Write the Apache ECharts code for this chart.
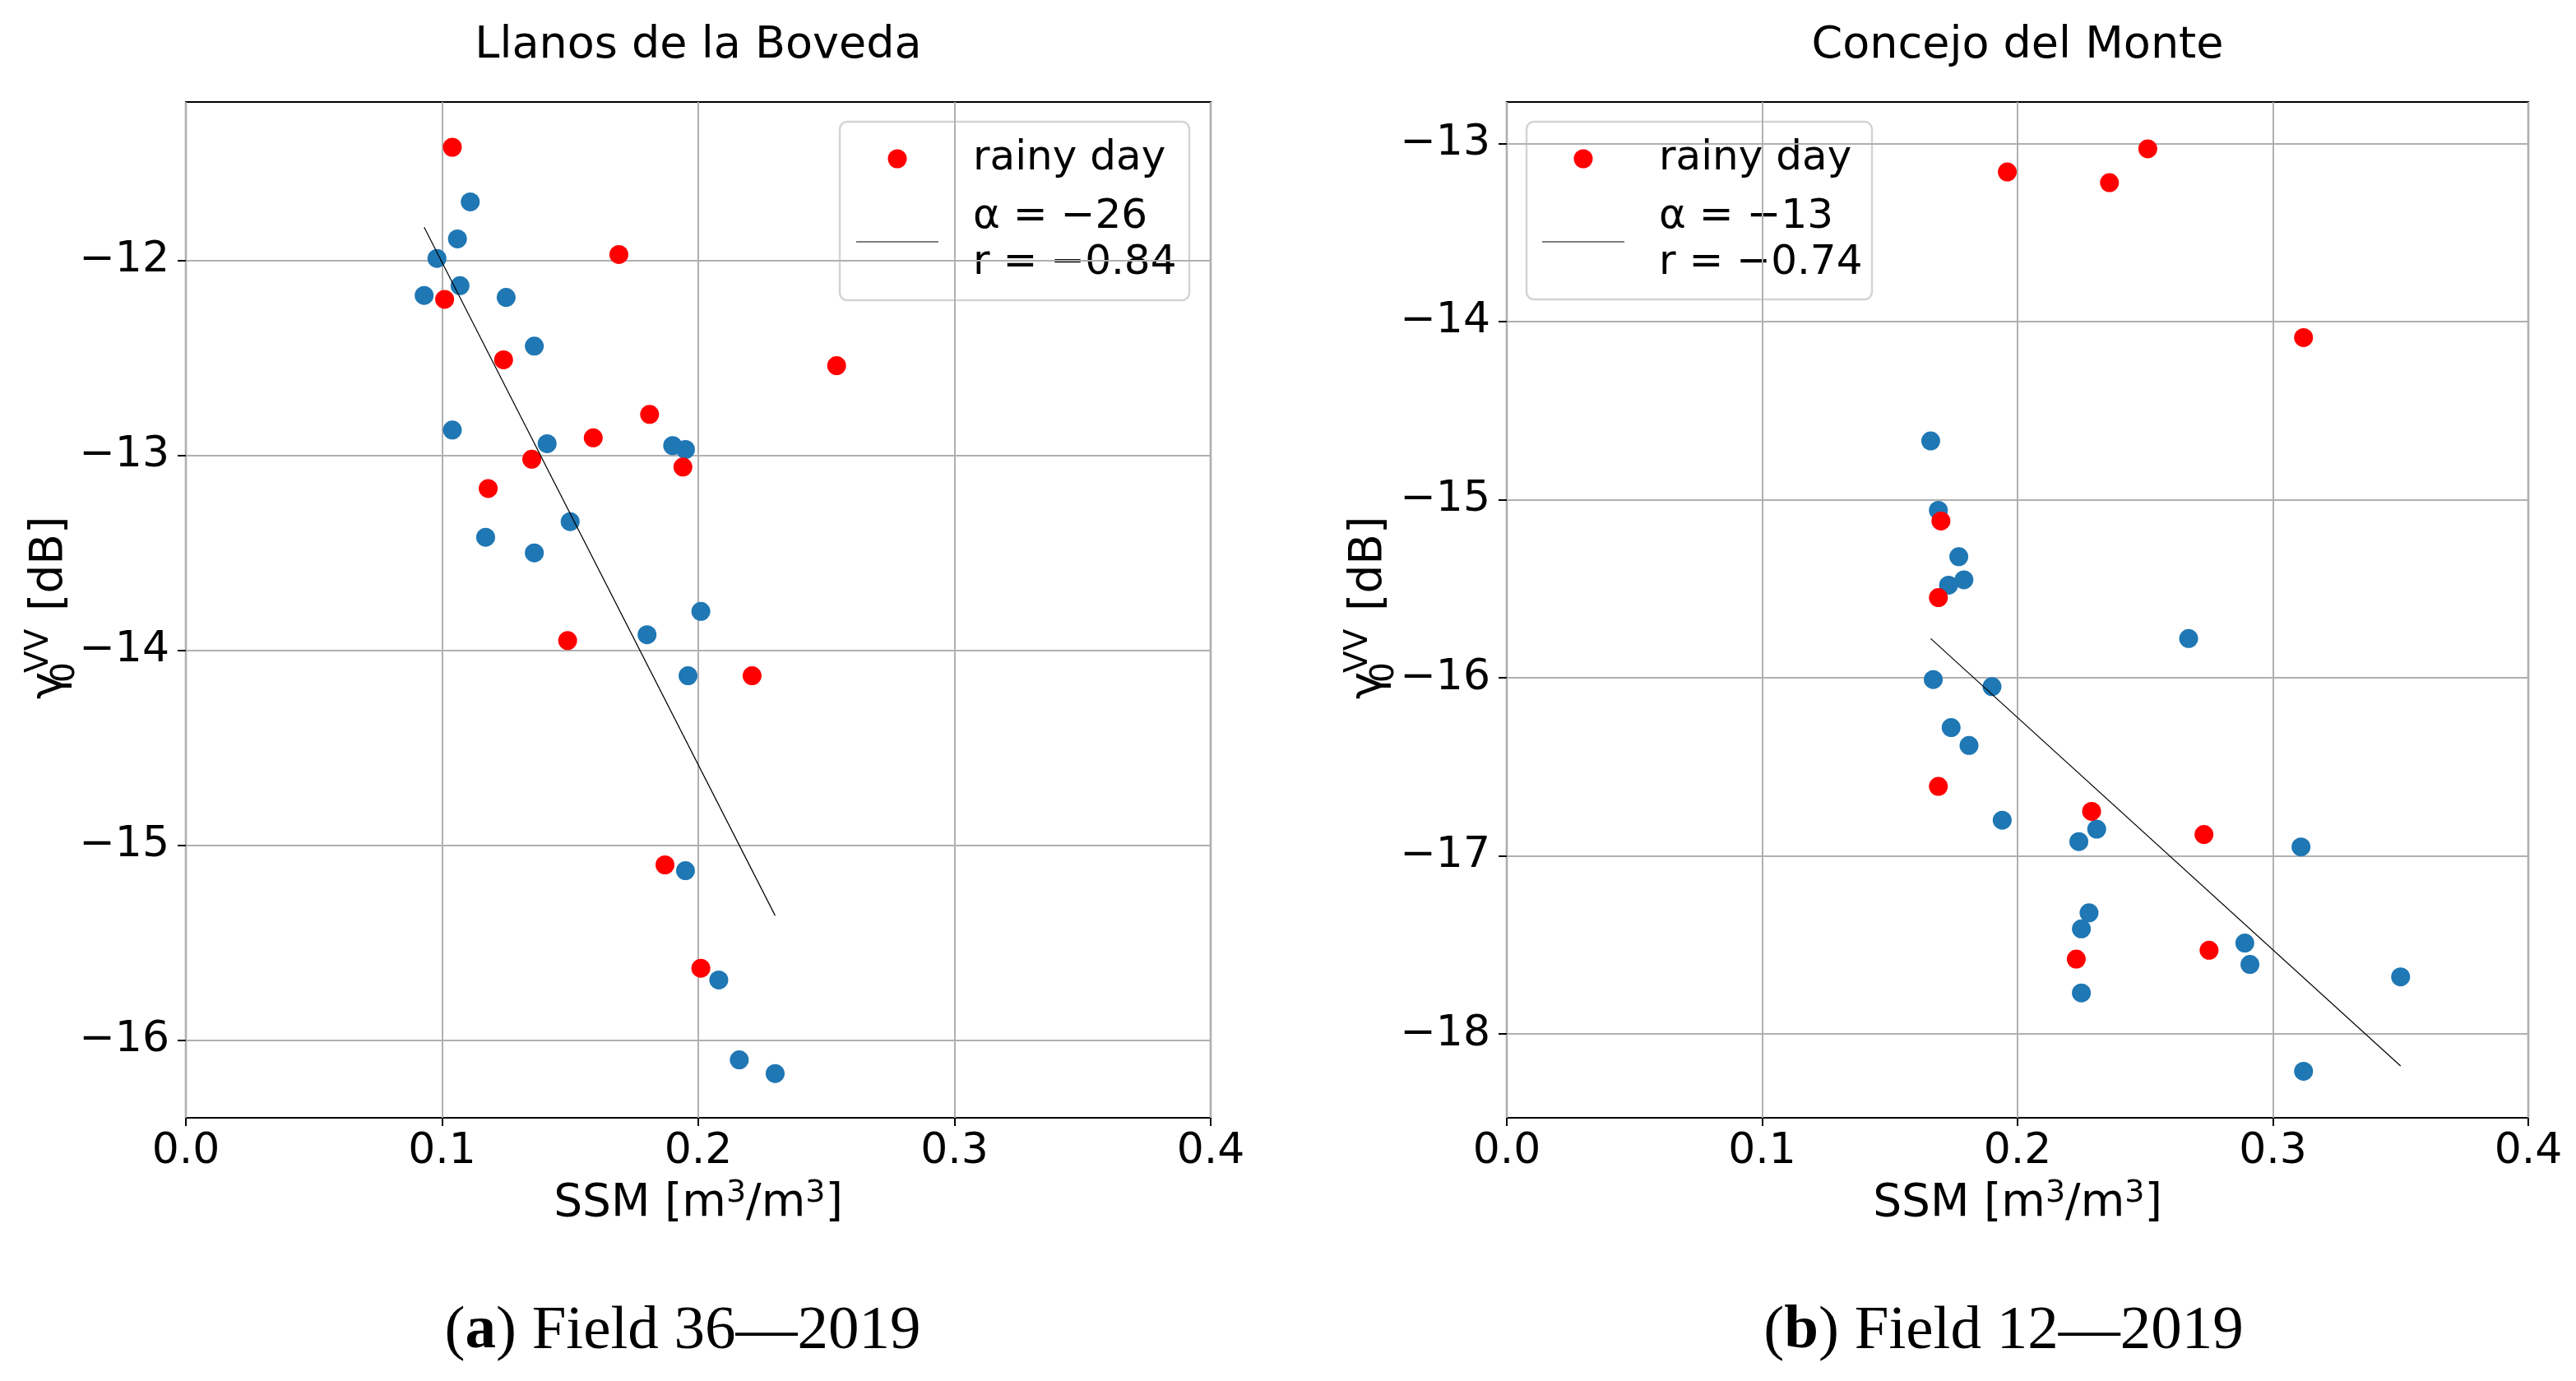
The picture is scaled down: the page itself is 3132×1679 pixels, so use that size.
<!DOCTYPE html>
<html>
<head>
<meta charset="utf-8">
<script src="https://cdn.jsdelivr.net/npm/echarts@6/dist/echarts.min.js"></script>
<style>
html,body{margin:0;padding:0;background:#fff;}
#chart{width:3132px;height:1679px;}
</style>
</head>
<body>
<div id="chart"></div>
<script>
// ---- data ----
const xTicks = [0.0, 0.1, 0.2, 0.3, 0.4];
const leftYTicks = [-16, -15, -14, -13, -12];
const rightYTicks = [-18, -17, -16, -15, -14, -13];

const leftTitle = 'Llanos de la Boveda';
const rightTitle = 'Concejo del Monte';

const leftBlueX = [0.111, 0.106, 0.098, 0.107, 0.093, 0.125, 0.136, 0.104, 0.141, 0.190, 0.195, 0.150, 0.117, 0.136, 0.201, 0.180, 0.196, 0.195, 0.208, 0.216, 0.230];
const leftBlueY = [-11.70, -11.89, -11.99, -12.13, -12.18, -12.19, -12.44, -12.87, -12.94, -12.95, -12.97, -13.34, -13.42, -13.50, -13.80, -13.92, -14.13, -15.13, -15.69, -16.10, -16.17];
const leftRedX = [0.104, 0.169, 0.101, 0.124, 0.181, 0.159, 0.135, 0.194, 0.118, 0.149, 0.221, 0.187, 0.201, 0.254];
const leftRedY = [-11.42, -11.97, -12.20, -12.51, -12.79, -12.91, -13.02, -13.06, -13.17, -13.95, -14.13, -15.10, -15.63, -12.54];
const leftFitX = [0.093, 0.230];
const leftFitY = [-11.83, -15.36];

const rightBlueX = [0.166, 0.169, 0.177, 0.179, 0.173, 0.267, 0.167, 0.190, 0.174, 0.181, 0.194, 0.231, 0.224, 0.311, 0.228, 0.225, 0.289, 0.291, 0.225, 0.350, 0.312];
const rightBlueY = [-14.67, -15.06, -15.32, -15.45, -15.48, -15.78, -16.01, -16.05, -16.28, -16.38, -16.80, -16.85, -16.92, -16.95, -17.32, -17.41, -17.49, -17.61, -17.77, -17.68, -18.21];
const rightRedX = [0.196, 0.236, 0.251, 0.312, 0.170, 0.169, 0.169, 0.229, 0.273, 0.223, 0.275];
const rightRedY = [-13.16, -13.22, -13.03, -14.09, -15.12, -15.55, -16.61, -16.75, -16.88, -17.58, -17.53];
const rightFitX = [0.166, 0.350];
const rightFitY = [-15.78, -18.18];

const leftLegend = ['rainy day', 'α = −26', 'r = −0.84'];
const rightLegend = ['rainy day', 'α = −13', 'r = −0.74'];
const leftCaption = ['a', ' Field 36—2019'];
const rightCaption = ['b', ' Field 12—2019'];

// ---- helpers ----
const zip = (xs, ys) => xs.map((x, i) => [x, ys[i]]);
const FONT = 'DejaVu Sans';
const BLUE = '#1f77b4', RED = '#ff0000';
const minus = v => (v < 0 ? '\u2212' : '') + Math.abs(v);

const grids = [
  {left: 226, top: 124, width: 1246, height: 1235},
  {left: 1832, top: 124, width: 1242, height: 1235}
];
const yRanges = [[-16.397, -11.188], [-18.471, -12.767]];
const yTickSets = [leftYTicks, rightYTicks];

function xAxis(i) {
  return {
    type: 'value', gridIndex: i, min: xTicks[0], max: xTicks[xTicks.length - 1], interval: 0.1,
    axisLine: {show: false},
    axisTick: {show: true, inside: false, length: 10, lineStyle: {color: '#000', width: 2}},
    axisLabel: {show: true, fontFamily: FONT, fontSize: 52, color: '#000', margin: 15,
      formatter: v => v.toFixed(1)},
    splitLine: {show: true, lineStyle: {color: '#b0b0b0', width: 2}}
  };
}
function yAxis(i) {
  const ticks = yTickSets[i];
  return {
    type: 'value', gridIndex: i, min: yRanges[i][0], max: yRanges[i][1],
    minInterval: 1, maxInterval: 1,
    axisLine: {show: false},
    axisTick: {show: true, inside: false, length: 10, customValues: ticks, lineStyle: {color: '#000', width: 2}},
    axisLabel: {show: true, fontFamily: FONT, fontSize: 52, color: '#000', margin: 20,
      customValues: ticks, showMinLabel: true, showMaxLabel: true,
      formatter: v => (Math.abs(v - Math.round(v)) < 1e-6 ? minus(Math.round(v)) : '')},
    splitLine: {show: true, lineStyle: {color: '#b0b0b0', width: 2}}
  };
}
function scatter(i, data, color) {
  return {type: 'scatter', xAxisIndex: i, yAxisIndex: i, data: data, symbol: 'circle', symbolSize: 23,
    itemStyle: {color: color, opacity: 1}, silent: true};
}
function fitLine(i, data) {
  return {type: 'line', xAxisIndex: i, yAxisIndex: i, data: data, showSymbol: false, symbol: 'none',
    lineStyle: {color: '#000', width: 1.2}, silent: true, z: 3};
}

function txt(x, y, text, size, align, extra) {
  return Object.assign({type: 'text', x: x, y: y, silent: true,
    style: {text: text, fontFamily: FONT, fontSize: size, fill: '#000',
      align: align, textAlign: align, verticalAlign: 'middle', textVerticalAlign: 'middle'}}, extra || {});
}

function yLabel(bx) {
  // rotated 90deg CCW; local x runs upward along text, local y>0 is to the right (below baseline)
  return {type: 'group', x: bx, y: 850, rotation: Math.PI / 2, silent: true, children: [
    txt(0, -16.5, 'γ', 56, 'left'),
    txt(20, 2.6, '0', 39, 'left'),
    txt(32, -29.4, 'VV', 39, 'left'),
    txt(107, -16.5, '[dB]', 55, 'left')
  ]};
}

function xLabel(cx) {
  return {type: 'text', x: cx, y: 1464, silent: true, style: {
    text: '{m|SSM [m}{s|3}{m|/m}{s|3}{m|]}',
    align: 'center', textAlign: 'center', verticalAlign: 'middle', textVerticalAlign: 'middle',
    rich: {
      m: {fontFamily: FONT, fontSize: 55, lineHeight: 64, fill: '#000', color: '#000'},
      s: {fontFamily: FONT, fontSize: 38, lineHeight: 38, fill: '#000', color: '#000', verticalAlign: 'top'}
    }}};
}

function caption(cx, parts) {
  return {type: 'text', x: cx, y: 1619, silent: true, style: {
    text: '{r|(}{b|' + parts[0] + '}{r|)' + parts[1] + '}',
    align: 'center', textAlign: 'center', verticalAlign: 'middle', textVerticalAlign: 'middle',
    rich: {
      r: {fontFamily: 'Liberation Serif', fontSize: 75, fill: '#000', color: '#000'},
      b: {fontFamily: 'Liberation Serif', fontSize: 75, fontWeight: 'bold', fill: '#000', color: '#000'}
    }}};
}

function legend(bx, by, bw, bh, markerX, textX, lineX1, lineX2, labels) {
  return {type: 'group', silent: true, z: 10, children: [
    {type: 'rect', shape: {x: bx, y: by, width: bw, height: bh, r: 9},
      style: {fill: 'rgba(255,255,255,0.8)', stroke: '#d4d4d4', lineWidth: 2.5}},
    {type: 'circle', shape: {cx: markerX, cy: 193, r: 11.5}, style: {fill: RED}},
    {type: 'line', shape: {x1: lineX1, y1: 294, x2: lineX2, y2: 294}, style: {stroke: '#000', lineWidth: 1.2}},
    txt(textX, 193, labels[0], 50, 'left'),
    txt(textX, 264, labels[1], 50, 'left'),
    txt(textX, 320, labels[2], 50, 'left')
  ]};
}

const chart = echarts.init(document.getElementById('chart'), null, {renderer: 'canvas', width: 3132, height: 1679});
chart.setOption({
  animation: false,
  backgroundColor: '#fff',
  grid: grids.map(g => Object.assign({show: true, borderColor: '#000', borderWidth: 2.2, backgroundColor: 'transparent', containLabel: false}, g)),
  xAxis: [xAxis(0), xAxis(1)],
  yAxis: [yAxis(0), yAxis(1)],
  series: [
    scatter(0, zip(leftBlueX, leftBlueY), BLUE),
    scatter(0, zip(leftRedX, leftRedY), RED),
    fitLine(0, zip(leftFitX, leftFitY)),
    scatter(1, zip(rightBlueX, rightBlueY), BLUE),
    scatter(1, zip(rightRedX, rightRedY), RED),
    fitLine(1, zip(rightFitX, rightFitY))
  ],
  graphic: {elements: [
    txt(849, 56, leftTitle, 54, 'center'),
    txt(2453, 56, rightTitle, 54, 'center'),
    yLabel(77),
    yLabel(1681),
    xLabel(849),
    xLabel(2453),
    caption(830, leftCaption),
    caption(2436, rightCaption),
    legend(1021, 148, 425, 217, 1091, 1183, 1041, 1141, leftLegend),
    legend(1856, 148, 420, 216, 1925, 2017, 1875, 1975, rightLegend)
  ]}
});
</script>
</body>
</html>
